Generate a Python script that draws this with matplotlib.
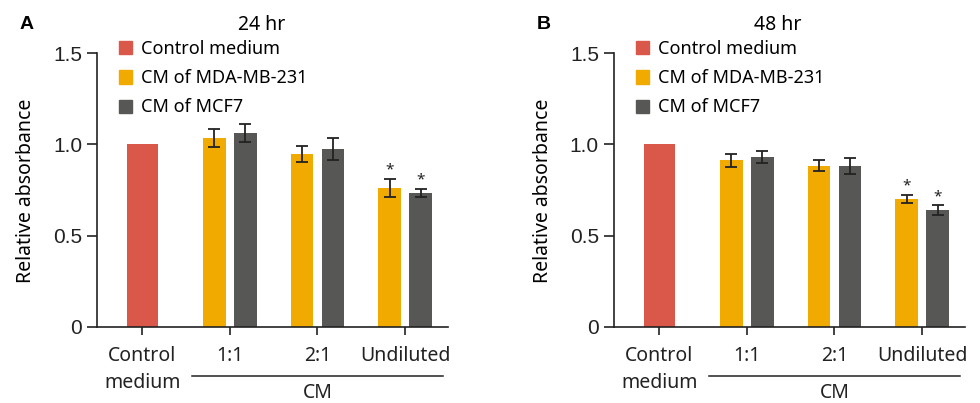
import matplotlib
matplotlib.use("Agg")
import matplotlib.pyplot as plt
from matplotlib.patches import Patch

# categories and values
groups = ["Control\nmedium", "1:1", "2:1", "Undiluted"]
series_names = ["Control medium", "CM of MDA-MB-231", "CM of MCF7"]

control_24 = 1.0
mda_24 = [1.036, 0.948, 0.761]
mda_24_err = [0.048, 0.045, 0.050]
mcf7_24 = [1.063, 0.975, 0.734]
mcf7_24_err = [0.050, 0.060, 0.020]

control_48 = 1.0
mda_48 = [0.913, 0.882, 0.701]
mda_48_err = [0.037, 0.030, 0.024]
mcf7_48 = [0.931, 0.882, 0.640]
mcf7_48_err = [0.033, 0.044, 0.026]

significant = [False, False, True]

RED = "#D9584A"
YELLOW = "#F0AA00"
GRAY = "#575756"
TEXT_FONT = ["Noto Sans", "DejaVu Sans"]
NUM_FONT = ["Liberation Sans", "DejaVu Sans"]


def draw_panel(ax, control, mda, mda_err, mcf7, mcf7_err):
    pos = [1, 2, 3]
    off = 0.177
    w = 0.26
    ax.bar([0], [control], width=0.35, color=RED, zorder=2)
    ax.bar([p - off for p in pos], mda, width=w, color=YELLOW, zorder=2)
    ax.bar([p + off for p in pos], mcf7, width=w, color=GRAY, zorder=2)
    ax.errorbar([p - off for p in pos], mda, yerr=mda_err, fmt="none",
                ecolor="#222222", elinewidth=1.3, capsize=4, capthick=1.3, zorder=3)
    ax.errorbar([p + off for p in pos], mcf7, yerr=mcf7_err, fmt="none",
                ecolor="#222222", elinewidth=1.3, capsize=4, capthick=1.3, zorder=3)
    for i, sig in enumerate(significant):
        if sig:
            for x, v, e in ((pos[i] - off, mda[i], mda_err[i]),
                            (pos[i] + off, mcf7[i], mcf7_err[i])):
                ax.annotate("*", (x, v + e), xytext=(0, 1), textcoords="offset points",
                            ha="center", va="bottom", fontsize=11, color="#222222",
                            family=TEXT_FONT)

    ax.set_xlim(-0.514, 3.49)
    ax.set_ylim(0, 1.5)
    ax.set_yticks([0, 0.5, 1.0, 1.5])
    ax.set_yticklabels(["0", "0.5", "1.0", "1.5"], family=NUM_FONT, fontsize=15)
    ax.set_xticks(range(len(groups)))
    ax.set_xticklabels(groups, family=TEXT_FONT, fontsize=14, linespacing=1.45)
    ax.tick_params(axis="y", length=7, width=1.2, pad=4, colors="#222222")
    ax.tick_params(axis="x", length=6, width=1.2, pad=8, colors="#222222")
    for s in ("top", "right"):
        ax.spines[s].set_visible(False)
    for s in ("left", "bottom"):
        ax.spines[s].set_linewidth(1.2)
        ax.spines[s].set_color("#222222")

    # bracket under the CM groups
    tr = ax.get_xaxis_transform()
    ax.plot([0.564, 3.436], [-0.180, -0.180], color="#222222", lw=1.1,
            transform=tr, clip_on=False)
    ax.text(2.0, -0.262, "CM", transform=tr, ha="center", va="baseline",
            fontsize=14, family=TEXT_FONT, color="#222222")

    handles = [Patch(color=c) for c in (RED, YELLOW, GRAY)]
    ax.legend(handles, series_names, loc="upper left", bbox_to_anchor=(0.04, 1.075),
              frameon=False, prop={"family": TEXT_FONT, "size": 13},
              handlelength=0.75, handleheight=0.75, handletextpad=0.5,
              labelspacing=0.62, borderaxespad=0)


fig = plt.figure(figsize=(9.8, 4.03), dpi=100)
ax_a = fig.add_axes([0.0993, 0.1893, 0.3578, 0.6784])
ax_b = fig.add_axes([0.6268, 0.1893, 0.3579, 0.6784])

draw_panel(ax_a, control_24, mda_24, mda_24_err, mcf7_24, mcf7_24_err)
draw_panel(ax_b, control_48, mda_48, mda_48_err, mcf7_48, mcf7_48_err)

fig.text(0.267, 0.938, "24 hr", ha="center", va="center", fontsize=14, family=TEXT_FONT)
fig.text(0.794, 0.938, "48 hr", ha="center", va="center", fontsize=14, family=TEXT_FONT)
fig.text(0.0204, 0.938, "A", ha="left", va="center", fontsize=14, weight="bold",
         family=NUM_FONT)
fig.text(0.5476, 0.938, "B", ha="left", va="center", fontsize=14, weight="bold",
         family=NUM_FONT)
fig.text(0.0265, 0.527, "Relative absorbance", rotation=90, ha="center", va="center",
         fontsize=14, family=TEXT_FONT)
fig.text(0.5544, 0.527, "Relative absorbance", rotation=90, ha="center", va="center",
         fontsize=14, family=TEXT_FONT)

fig.savefig("out.png", dpi=100)
